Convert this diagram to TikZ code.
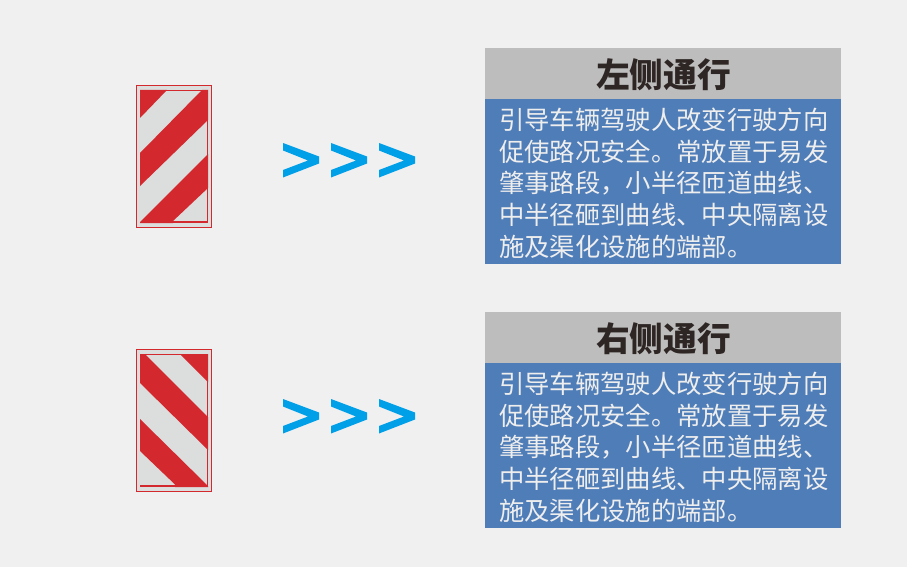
\documentclass[tikz,border=0pt]{standalone}
\usepackage{fontspec}
\setmainfont{Noto Sans CJK SC}
\definecolor{pagegray}{RGB}{240,240,240}
\definecolor{signgray}{RGB}{220,221,221}
\definecolor{signred}{RGB}{211,41,46}
\definecolor{chevblue}{RGB}{0,160,233}
\definecolor{headgray}{RGB}{189,189,189}
\definecolor{bodyblue}{RGB}{79,125,184}
\definecolor{headink}{RGB}{45,38,36}
\definecolor{bodyink}{RGB}{238,238,238}
\tikzset{
  headtext/.style={inner sep=0pt,text=headink,font=\fontsize{25.3}{25.3}\selectfont\bfseries},
  bodytext/.style={anchor=base west,inner sep=0pt,text=bodyink,font=\fontsize{19}{24}\selectfont},
  signframe/.style={draw=signred,line width=0.6pt,fill=signgray},
}
\begin{document}
\begin{tikzpicture}[x=0.75pt,y=0.75pt,yscale=-1,xscale=1]
\useasboundingbox[fill=pagegray] (0,0) rectangle (907,567);

%left sign
\draw [signframe] (136.5,85.5) rectangle (211.5,227.5);
\draw [signred,line width=0.8pt] (140,90.5) -- (207.5,90.5) -- (207.5,222);
\fill [signred] (140,90) -- (167,90) -- (140,118) -- cycle;
\fill [signred] (202,90) -- (208,90) -- (208,120) -- (140,186) -- (140,153) -- cycle;
\fill [signred] (208,154) -- (208,188) -- (173,221) -- (173,223) -- (140,223) -- (140,222) -- cycle;
\fill [signred] (173,220.5) rectangle (208,223);

%right sign
\draw [signframe] (136.5,349.5) rectangle (211.5,491.5);
\draw [signred,line width=0.8pt] (140,354.5) -- (207.5,354.5) -- (207.5,486);
\fill [signred] (180,354) -- (208,354) -- (208,382) -- cycle;
\fill [signred] (140,354) -- (145,354) -- (208,417) -- (208,450) -- (140,383) -- cycle;
\fill [signred] (140,419) -- (208,486) -- (208,487) -- (175,487) -- (175,484.5) -- (140,451) -- cycle;
\fill [signred] (140,484.5) rectangle (208,487);

%chevrons
\foreach \rowy in {160,416}
  \foreach \colx in {283,331,379}
    \fill [chevblue,shift={(\colx,\rowy)}] (0,-17) -- (36,-3.5) -- (36,3.5) -- (0,17.5) -- (0,10) -- (25,0.5) -- (0,-9.5) -- cycle;

%panels
\fill [headgray] (485,48) rectangle (841,99);
\fill [bodyblue] (485,99) rectangle (841,264);
\fill [headgray] (485,312) rectangle (841,363);
\fill [bodyblue] (485,363) rectangle (841,528);

% Text Node
\node (lefthead) [headtext] at (663.5,75) {左侧通行};
\node (righthead) [headtext] at (663.5,339) {右侧通行};
\foreach \panely/\panelname in {129.5/left,393.5/right}
  \foreach \bodyline [count=\i from 0] in {引导车辆驾驶人改变行驶方向,促使路况安全。常放置于易发,肇事路段，小半径匝道曲线、,中半径砸到曲线、中央隔离设,施及渠化设施的端部。}
    \node (\panelname line\i) [bodytext] at (499,\panely+31.7*\i) {\bodyline};

\end{tikzpicture}
\end{document}
